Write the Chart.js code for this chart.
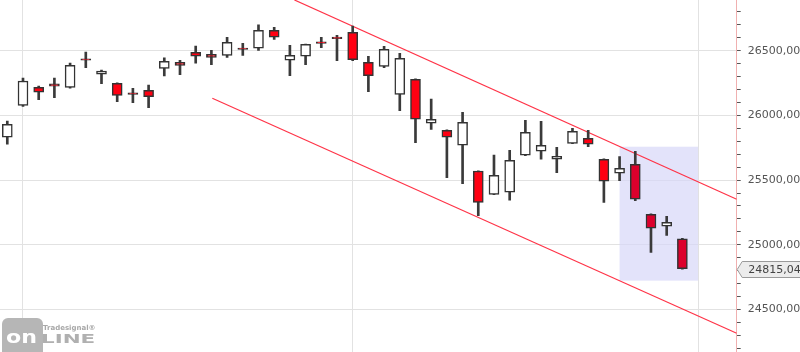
<!DOCTYPE html>
<html>
<head>
<meta charset="utf-8">
<title>Candles</title>
<script src="https://cdn.jsdelivr.net/npm/chart.js@4/dist/chart.umd.min.js"></script>
<style>
    html, body { margin: 0; padding: 0; background: #fff; }
    #grafico { display: block; }
</style>
</head>
<body>
<canvas id="grafico" width="800" height="352"></canvas>
<script>
/*global Chart*/

var aperturas = [25831, 26078, 26217, 26243, 26217, 26436, 26318, 26248, 26175, 26194, 26364, 26410, 26488, 26472, 26464,
    26513, 26519, 26658, 26426, 26457, 26568, 26598, 26642, 26410, 26379, 26163, 26279, 25939, 25885, 25769,
    25570, 25390, 25406, 25692, 25723, 25661, 25784, 25823, 25661, 25553, 25622, 25236, 25143, 25047];
var maximos = [25957, 26289, 26227, 26289, 26405, 26490, 26351, 26252, 26209, 26235, 26444, 26426, 26536, 26503, 26604,
    26557, 26699, 26681, 26542, 26552, 26604, 26619, 26690, 26457, 26534, 26480, 26282, 26127, 25888, 26024,
    25572, 25694, 25730, 25962, 25954, 25754, 25900, 25885, 25664, 25681, 25723, 25239, 25220, 25050];
var minimos = [25777, 26070, 26121, 26137, 26210, 26369, 26245, 26106, 26098, 26060, 26305, 26315, 26403, 26392, 26449,
    26464, 26503, 26588, 26307, 26392, 26523, 26423, 26423, 26183, 26369, 26036, 25789, 25892, 25519, 25472,
    25225, 25388, 25344, 25688, 25661, 25557, 25781, 25758, 25328, 25495, 25341, 24942, 25073, 24811];
var cierres = [25931, 26266, 26179, 26225, 26387, 26426, 26343, 26155, 26163, 26145, 26418, 26387, 26457, 26449, 26565,
    26509, 26658, 26604, 26464, 26549, 26556, 26593, 26430, 26307, 26511, 26441, 25970, 25970, 25831, 25947,
    25328, 25537, 25653, 25869, 25769, 25684, 25877, 25777, 25491, 25591, 25352, 25128, 25174, 24815.04];

var inicioMes = [1, 22, 44];
var canalSuperior = [{x: 18.29, y: 26892}, {x: 46.46, y: 25352}];
var canalInferior = [{x: 13.06, y: 26132}, {x: 46.46, y: 24316}];
var zona = [39, 44, 24723, 25758];

function formatoPrecio(valor) {
    "use strict";
    return valor.toFixed(2).replace(".", ",");
}

var cuerpos = [];
var mechas = [];
var coloresCuerpo = [];
var i;
for (i = 0; i < cierres.length; i += 1) {
    cuerpos.push({x: i, y: [aperturas[i], cierres[i]]});
    mechas.push({x: i, y: [minimos[i], maximos[i]]});
    if (cierres[i] < aperturas[i]) {
        coloresCuerpo.push(i >= zona[0] && i <= zona[1] ? "#dc002c" : "#ff0012");
    } else {
        coloresCuerpo.push("#ffffff");
    }
}

var pluginDibujos = {
    id: "dibujos",
    beforeDatasetsDraw: function (chart) {
        "use strict";
        var ctx = chart.ctx;
        var x = chart.scales.x;
        var y = chart.scales.y;
        var x0 = x.getPixelForValue(zona[0]);
        var x1 = x.getPixelForValue(zona[1]);
        var y0 = y.getPixelForValue(zona[3]);
        var y1 = y.getPixelForValue(zona[2]);
        ctx.save();
        ctx.fillStyle = "rgba(215, 215, 248, 0.7)";
        ctx.fillRect(x0, y0, x1 - x0, y1 - y0);
        ctx.restore();
    },
    afterDraw: function (chart) {
        "use strict";
        var ctx = chart.ctx;
        var y = chart.scales.y;
        var py = Math.round(y.getPixelForValue(cierres[cierres.length - 1])) + 0.5;
        var px = y.left + 0.5;
        ctx.save();
        ctx.beginPath();
        ctx.moveTo(px, py);
        ctx.lineTo(px + 5, py - 8);
        ctx.lineTo(802, py - 8);
        ctx.lineTo(802, py + 8);
        ctx.lineTo(px + 5, py + 8);
        ctx.closePath();
        ctx.fillStyle = "#ececec";
        ctx.fill();
        ctx.strokeStyle = "#9a9a9a";
        ctx.lineWidth = 1;
        ctx.stroke();
        ctx.fillStyle = "#444";
        ctx.font = "11px 'DejaVu Sans'";
        ctx.textBaseline = "middle";
        ctx.fillText(formatoPrecio(cierres[cierres.length - 1]), px + 11, py + 0.5);

        // logo
        ctx.fillStyle = "#b6b6b6";
        ctx.beginPath();
        ctx.roundRect(2, 318, 41, 40, 6);
        ctx.fill();
        ctx.fillStyle = "#ffffff";
        ctx.font = "bold 17px 'DejaVu Sans'";
        ctx.textBaseline = "alphabetic";
        ctx.save();
        ctx.translate(6, 343);
        ctx.scale(1.3, 1);
        ctx.fillText("on", 0, 0);
        ctx.restore();
        ctx.fillStyle = "#b0b0b0";
        ctx.font = "bold 13px 'DejaVu Sans'";
        ctx.save();
        ctx.translate(41, 343);
        ctx.scale(1.65, 1);
        ctx.fillText("LINE", 0, 0);
        ctx.restore();
        ctx.font = "bold 7px 'DejaVu Sans'";
        ctx.fillStyle = "#a8a8a8";
        ctx.fillText("Tradesignal®", 43, 330);
        ctx.restore();
    }
};

new Chart(document.getElementById("grafico"), {
    type: "bar",
    data: {
        datasets: [{
            type: "bar",
            data: cuerpos,
            grouped: false,
            barThickness: 10,
            minBarLength: 1.5,
            backgroundColor: coloresCuerpo,
            borderColor: "#333333",
            borderWidth: 1.5,
            borderSkipped: false,
            order: 0
        }, {
            type: "bar",
            data: mechas,
            grouped: false,
            barThickness: 2,
            backgroundColor: "#3a3a3a",
            borderWidth: 0,
            order: 1
        }, {
            type: "line",
            data: canalSuperior,
            borderColor: "#ff3347",
            borderWidth: 1.2,
            pointRadius: 0,
            order: 2
        }, {
            type: "line",
            data: canalInferior,
            borderColor: "#ff3347",
            borderWidth: 1.2,
            pointRadius: 0,
            order: 2
        }]
    },
    options: {
        responsive: false,
        animation: false,
        layout: { padding: 0 },
        plugins: {
            legend: { display: false },
            tooltip: { enabled: false }
        },
        scales: {
            x: {
                type: "linear",
                min: -0.465,
                max: 46.46,
                offset: false,
                border: { display: false },
                grid: {
                    color: "#e2e2e2",
                    offset: false,
                    drawTicks: false
                },
                ticks: { display: false },
                afterBuildTicks: function (scale) {
                    scale.ticks = inicioMes.map(function (v) {
                        return {value: v};
                    });
                },
                afterFit: function (scale) {
                    scale.height = 0;
                    scale.paddingLeft = 0;
                    scale.paddingRight = 0;
                }
            },
            y: {
                position: "right",
                min: 24171.5,
                max: 26891.8,
                border: { color: "#f0b0b0", width: 1 },
                grid: {
                    color: function (ctx) {
                        return ctx.tick && ctx.tick.value % 500 === 0 ? "#e2e2e2" : "rgba(0,0,0,0)";
                    },
                    tickColor: "#555555",
                    tickLength: 4
                },
                ticks: {
                    stepSize: 100,
                    includeBounds: false,
                    autoSkip: false,
                    padding: 7,
                    color: "#555555",
                    font: { family: "'DejaVu Sans'", size: 11 },
                    callback: function (value) {
                        return value % 500 === 0 ? formatoPrecio(value) : "";
                    }
                },
                afterFit: function (scale) {
                    scale.width = 63.3;
                    scale.paddingTop = 0;
                    scale.paddingBottom = 0;
                }
            }
        }
    },
    plugins: [pluginDibujos]
});
</script>
</body>
</html>
